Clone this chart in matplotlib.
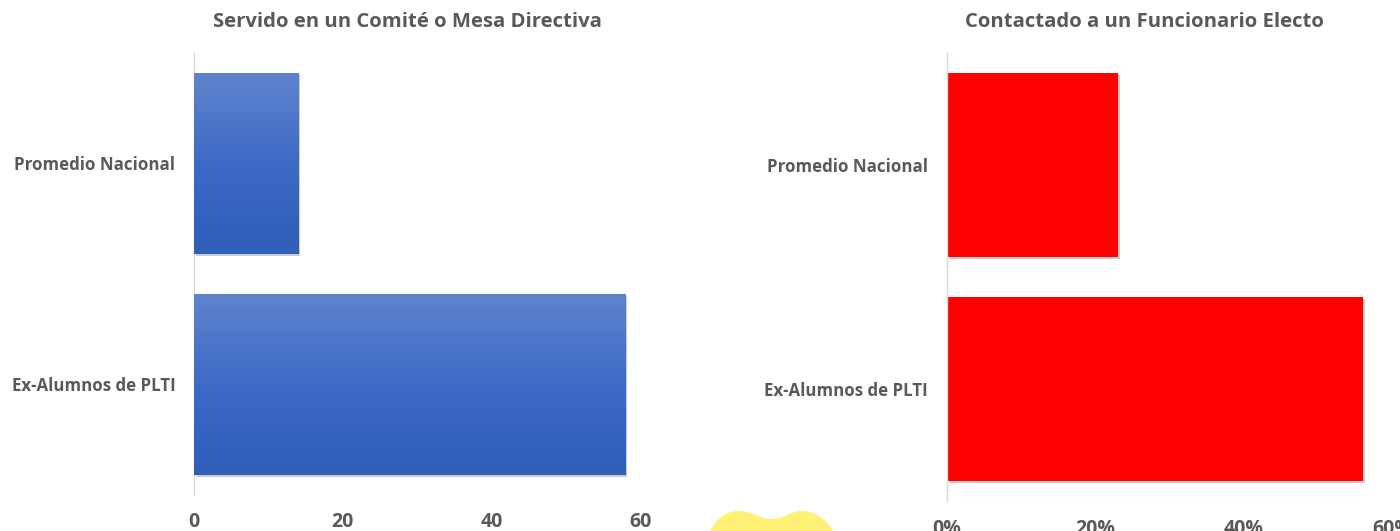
#!/usr/bin/env python3
"""Two horizontal bar panels: committee service and contacting an elected official."""

import matplotlib.pyplot as plt
import matplotlib.patheffects as pe
import numpy as np
from matplotlib.colors import LinearSegmentedColormap
from matplotlib.path import Path
from matplotlib.patches import PathPatch
from matplotlib.ticker import PercentFormatter

# data
categories = ["Ex-Alumnos de PLTI", "Promedio Nacional"]
comite_values = [58, 14]
contacto_values = [0.56, 0.23]
left_title = "Servido en un Comité o Mesa Directiva"
right_title = "Contactado a un Funcionario Electo"
left_ticks = [0, 20, 40, 60]
right_ticks = [0, 0.2, 0.4, 0.6]

TEXT = "#595959"
SPINE = "#D9D9D9"

plt.rcParams["font.family"] = ["Open Sans", "DejaVu Sans"]

fig = plt.figure(figsize=(14, 5.31), dpi=100)
ax_l = fig.add_axes([0.1386, 0.0678, 0.3186, 0.8324])
ax_r = fig.add_axes([0.6764, 0.0565, 0.3182, 0.8437])

shadow = [pe.SimplePatchShadow(offset=(1.5, -1.5), shadow_rgbFace="#9a9a9a", alpha=0.5), pe.Normal()]


def style(ax, ticks, xmax, title, title_x, xpad):
    ax.set_xlim(0, xmax)
    ax.set_ylim(-0.5, 1.5)
    ax.set_xticks(ticks)
    ax.set_yticks(range(len(categories)))
    ax.set_yticklabels(categories)
    for side in ("top", "right", "bottom"):
        ax.spines[side].set_visible(False)
    ax.spines["left"].set_color(SPINE)
    ax.spines["left"].set_linewidth(1)
    ax.tick_params(axis="both", length=0, colors=TEXT)
    ax.tick_params(axis="x", pad=xpad, labelsize=14)
    ax.tick_params(axis="y", pad=13.5, labelsize=12.2)
    for lab in ax.get_xticklabels() + ax.get_yticklabels():
        lab.set_fontweight("bold")
    fig.text(title_x, 0.958, title, ha="center", va="center",
             fontsize=14.6, fontweight="bold", color=TEXT)


# left panel: gradient blue bars
bars = ax_l.barh(range(len(categories)), comite_values, height=0.82, color="#4470C4",
                 edgecolor="none", zorder=2)
grad = np.linspace(0, 1, 256).reshape(-1, 1)
blue_cmap = LinearSegmentedColormap.from_list("blue", ["#2E5EB8", "#3D6AC4", "#6084CE"])
for bar in bars:
    bar.set_path_effects(shadow)
    x0, y0 = bar.get_x(), bar.get_y()
    w, h = bar.get_width(), bar.get_height()
    im = ax_l.imshow(grad, cmap=blue_cmap, aspect="auto", origin="lower",
                     extent=(x0, x0 + w, y0, y0 + h), zorder=3)
    im.set_clip_path(bar)
style(ax_l, left_ticks, 60, left_title, 407.5 / 1400, 12)

# right panel: solid red bars
bars_r = ax_r.barh(range(len(categories)), contacto_values, height=0.82, color="#FF0000",
                   edgecolor="none", zorder=2)
for bar in bars_r:
    bar.set_path_effects(shadow)
ax_r.xaxis.set_major_formatter(PercentFormatter(1.0, decimals=0))
style(ax_r, right_ticks, 0.6, right_title, 1144 / 1400, 13)

# decorative yellow shape at the bottom centre (figure pixels)
W, H = 1400, 531
pts = [(709, 533), (718, 515), (728, 511), (740, 511),
       (752, 511), (760, 519), (772, 519),
       (784, 519), (790, 511), (802, 511),
       (814, 511), (826, 518), (834, 533), (709, 533)]
codes = [Path.MOVETO] + [Path.CURVE4] * 12 + [Path.CLOSEPOLY]
verts = [(x / W, 1 - y / H) for x, y in pts]
fig.patches.append(PathPatch(Path(verts, codes), transform=fig.transFigure,
                             facecolor="#FFF176", edgecolor="none"))

fig.savefig("out.png", dpi=100)
